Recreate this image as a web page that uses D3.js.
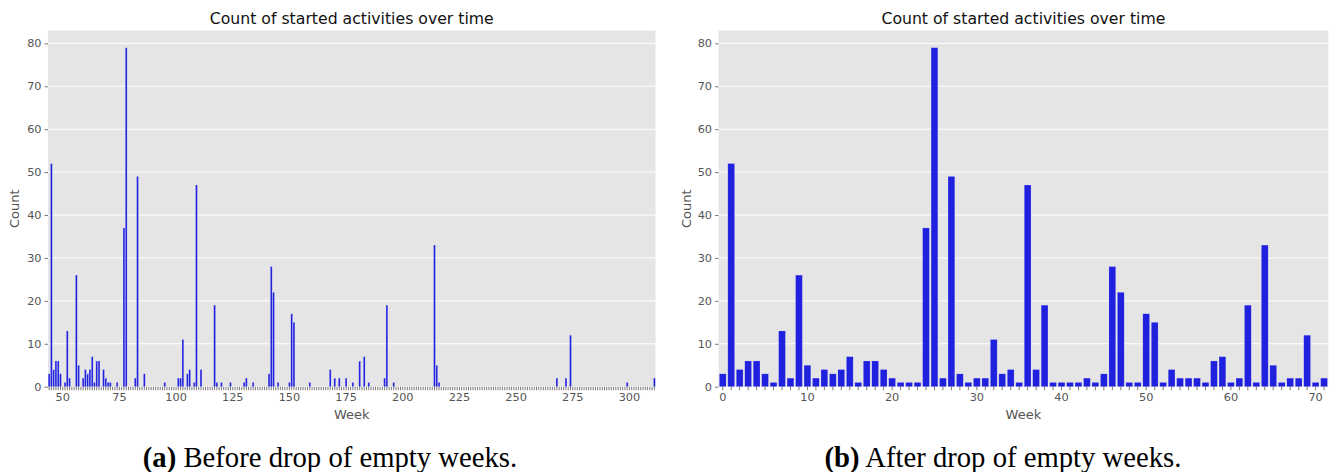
<!DOCTYPE html>
<html>
<head>
<meta charset="utf-8">
<script src="https://cdn.jsdelivr.net/npm/d3@7"></script>
<style>
  html, body { margin: 0; padding: 0; background: #ffffff; }
  svg { display: block; }
</style>
</head>
<body>
<svg id="chart" width="1330" height="472"></svg>
<script>
// ---------------- data ----------------
// weekly counts of started activities (non-empty weeks, in order)
const counts = [3, 52, 4, 6, 6, 3, 1, 13, 2, 26, 5, 2, 4, 3, 4, 7, 1, 6, 6, 4, 2, 1, 1, 1,
  37, 79, 2, 49, 3, 1, 2, 2, 11, 3, 4, 1, 47, 4, 19, 1, 1, 1, 1, 2, 1, 3, 28, 22, 1, 1,
  17, 15, 1, 4, 2, 2, 2, 1, 6, 7, 1, 2, 19, 1, 33, 5, 1, 2, 2, 12, 1, 2];
// calendar week number of each non-empty week (before dropping empty weeks)
const activeWeeks = [44, 45, 46, 47, 48, 49, 51, 52, 53, 56, 57, 59, 60, 61, 62, 63, 64, 65, 66, 68, 69, 70, 71, 74,
  77, 78, 82, 83, 86, 95, 101, 102, 103, 105, 106, 108, 109, 111, 117, 118, 120, 124, 130, 131, 134, 141, 142, 143, 145, 150,
  151, 152, 159, 168, 170, 172, 175, 178, 181, 183, 185, 192, 193, 196, 214, 215, 216, 268, 272, 274, 299, 311];
const firstWeek = 44;
const lastWeek = 311;
const leftTickLabels = [50, 75, 100, 125, 150, 175, 200, 225, 250, 275, 300];
const rightTickLabels = [0, 10, 20, 30, 40, 50, 60, 70];
const yTicks = [0, 10, 20, 30, 40, 50, 60, 70, 80];
const chartTitle = "Count of started activities over time";
const xLabel = "Week";
const yLabel = "Count";
const captions = [
  { tag: "(a)", text: " Before drop of empty weeks." },
  { tag: "(b)", text: " After drop of empty weeks." }
];

// ---------------- drawing ----------------
const svg = d3.select("#chart");
const BAR = "#2020df";
const BG = "#e5e5e5";
const TXT = "#555555";
const SANS = "DejaVu Sans, Verdana, sans-serif";

const yTop = 30.7, yBottom = 386.7;
const yMax = d3.max(counts) * 1.05;

const allWeeks = d3.range(firstWeek, lastWeek + 1);
const weekCount = new Map(activeWeeks.map((w, i) => [w, counts[i]]));
const leftData = allWeeks.map(w => ({ key: w, value: weekCount.get(w) || 0 }));
const rightData = counts.map((c, i) => ({ key: i, value: c }));

const panels = [
  { x0: 48, x1: 655.5, data: leftData, labels: new Set(leftTickLabels), caption: captions[0], ylabX: 14, capX: 330 },
  { x0: 718.5, x1: 1328.3, data: rightData, labels: new Set(rightTickLabels), caption: captions[1], ylabX: 686, capX: 1003 }
];

panels.forEach(p => {
  const g = svg.append("g");
  const x = d3.scaleBand()
    .domain(p.data.map(d => d.key))
    .range([p.x0, p.x1])
    .paddingInner(0.2)
    .paddingOuter(0.1);
  const y = d3.scaleLinear().domain([0, yMax]).range([yBottom, yTop]);

  // background
  g.append("rect")
    .attr("x", p.x0).attr("y", yTop)
    .attr("width", p.x1 - p.x0).attr("height", yBottom - yTop)
    .attr("fill", BG);

  // grid
  g.append("g").selectAll("line")
    .data(yTicks).join("line")
    .attr("x1", p.x0).attr("x2", p.x1)
    .attr("y1", d => y(d)).attr("y2", d => y(d))
    .attr("stroke", "#ffffff").attr("stroke-width", 1);

  // bars
  g.append("g").selectAll("rect")
    .data(p.data.filter(d => d.value > 0)).join("rect")
    .attr("x", d => x(d.key))
    .attr("width", x.bandwidth())
    .attr("y", d => y(d.value))
    .attr("height", d => y(0) - y(d.value))
    .attr("fill", BAR)
    .attr("stroke", "rgba(255,255,255,0.35)")
    .attr("stroke-width", 0.5);

  // x axis
  const xAxis = d3.axisBottom(x)
    .tickSizeOuter(0)
    .tickSize(3.5)
    .tickPadding(3)
    .tickFormat(d => p.labels.has(d) ? String(d) : "");
  const xg = g.append("g").attr("transform", `translate(0,${yBottom})`).call(xAxis);
  xg.select(".domain").remove();
  xg.selectAll(".tick line").attr("stroke", TXT).attr("stroke-width", 0.8);
  xg.selectAll(".tick text").attr("fill", TXT).attr("font-family", SANS).attr("font-size", 11.3);

  // y axis
  const yAxis = d3.axisLeft(y).tickValues(yTicks).tickSizeOuter(0).tickSize(3.5).tickPadding(3);
  const yg = g.append("g").attr("transform", `translate(${p.x0},0)`).call(yAxis);
  yg.select(".domain").remove();
  yg.selectAll(".tick line").attr("stroke", TXT).attr("stroke-width", 0.8);
  yg.selectAll(".tick text").attr("fill", TXT).attr("font-family", SANS).attr("font-size", 11.3);

  // title
  g.append("text")
    .attr("x", (p.x0 + p.x1) / 2).attr("y", 24)
    .attr("text-anchor", "middle")
    .attr("font-family", SANS).attr("font-size", 15.7)
    .attr("fill", "#111111")
    .text(chartTitle);

  // axis labels
  g.append("text")
    .attr("x", (p.x0 + p.x1) / 2).attr("y", 419)
    .attr("text-anchor", "middle")
    .attr("font-family", SANS).attr("font-size", 13)
    .attr("fill", TXT)
    .text(xLabel);
  g.append("text")
    .attr("transform", `translate(${p.ylabX + 5},${(yTop + yBottom) / 2}) rotate(-90)`)
    .attr("text-anchor", "middle")
    .attr("font-family", SANS).attr("font-size", 13)
    .attr("fill", TXT)
    .text(yLabel);

  // caption
  const cap = g.append("text")
    .attr("x", p.capX).attr("y", 467)
    .attr("text-anchor", "middle")
    .attr("font-family", "Liberation Serif, Times New Roman, serif")
    .attr("font-size", 28.7)
    .attr("fill", "#000000");
  cap.append("tspan").attr("font-weight", "bold").text(p.caption.tag);
  cap.append("tspan").text(p.caption.text);
});
</script>
</body>
</html>
